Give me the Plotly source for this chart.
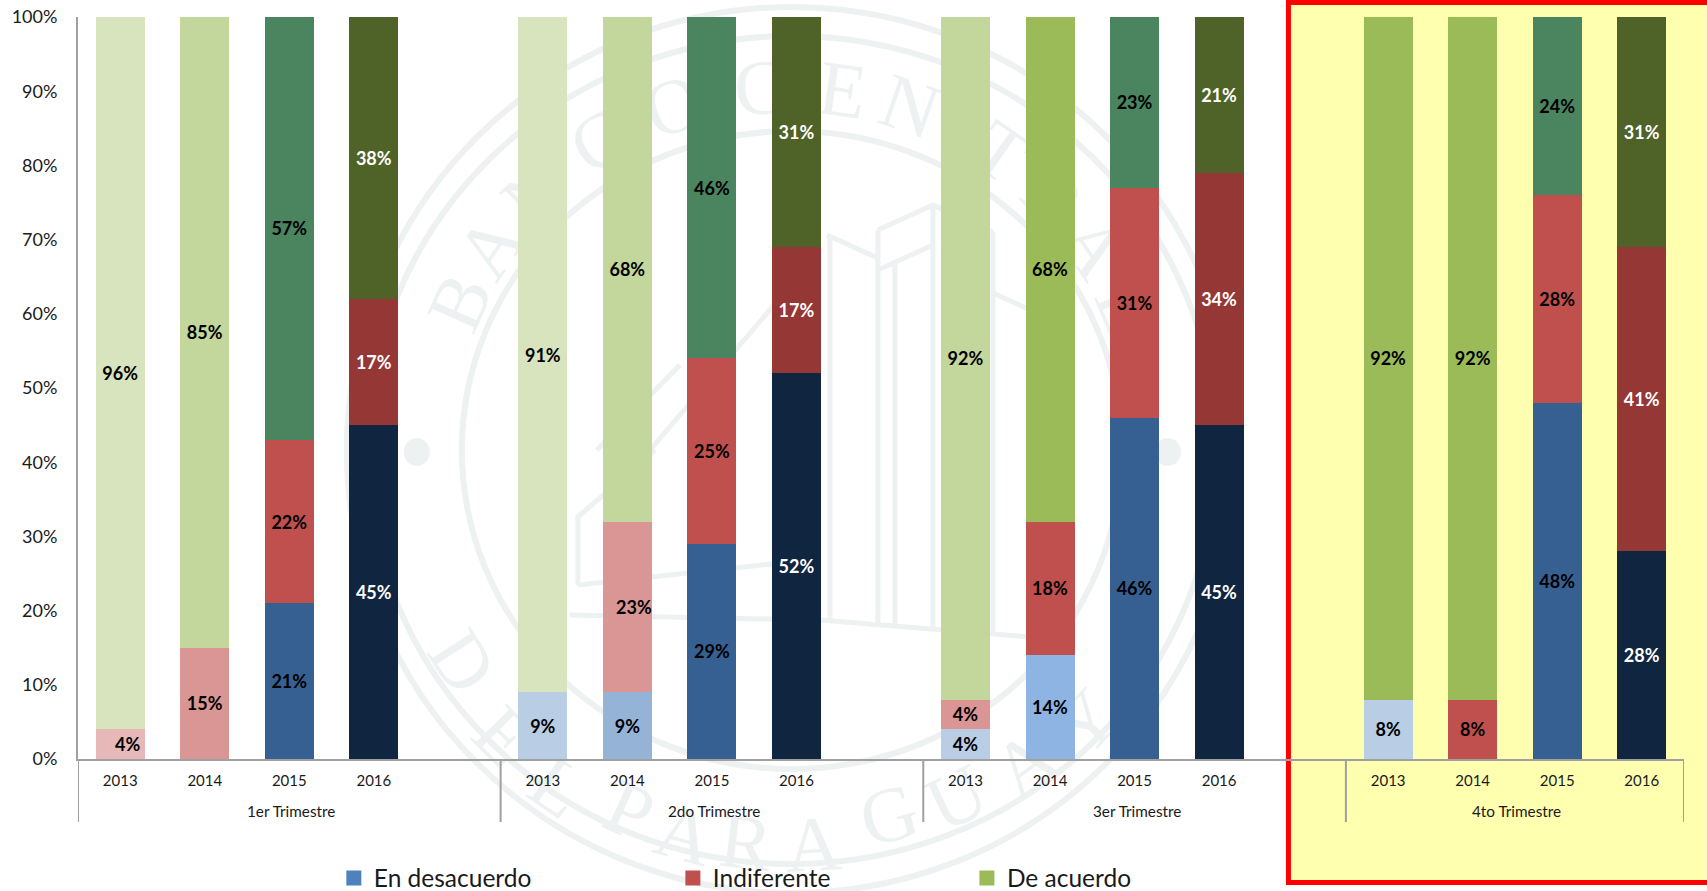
import math
import plotly.graph_objects as go

WIDTH, HEIGHT = 1707, 891
LEFT, RIGHT, TOP, BOTTOM = 78.2, 1684, 17, 759

# ---- data ----
years = ["2013", "2014", "2015", "2016"]
quarters = ["1er Trimestre", "2do Trimestre", "3er Trimestre", "4to Trimestre"]
series_names = ["En desacuerdo", "Indiferente", "De acuerdo"]

en_desacuerdo = [0, 0, 21, 45, 9, 9, 29, 52, 4, 14, 46, 45, 8, 0, 48, 28]
indiferente = [4, 15, 22, 17, 0, 23, 25, 17, 4, 18, 31, 34, 0, 8, 28, 41]
de_acuerdo = [96, 85, 57, 38, 91, 68, 46, 31, 92, 68, 23, 21, 92, 92, 24, 31]

# ---- styles ----
colors_desacuerdo = ["#B9CDE5", "#95B3D7", "#376092", "#10253F"] * 2 + ["#B9CDE5", "#8EB4E3", "#376092", "#10253F"] * 2
colors_indiferente = (["#E6B9B8", "#D99694", "#C0504D", "#953735"]
                      + ["#E6B9B8", "#D99694", "#C0504D", "#953735"]
                      + ["#D99694", "#C0504D", "#C0504D", "#953735"]
                      + ["#D99694", "#C0504D", "#C0504D", "#953735"])
colors_acuerdo = (["#D7E4BD", "#C3D69B", "#4A8560", "#4F6228"]
                  + ["#D7E4BD", "#C3D69B", "#4A8560", "#4F6228"]
                  + ["#C3D69B", "#9BBB59", "#4A8560", "#4F6228"]
                  + ["#9BBB59", "#9BBB59", "#4A8560", "#4F6228"])
legend_colors = ["#4F81BD", "#C0504D", "#9BBB59"]
legend_x_px = [334, 673, 967]
WM = "#EDF1F1"
AXIS = "#A0A0A0"
TEXT = "#1A1A1A"
FONT = "Lato"

# position on a numeric axis: four years and one empty slot per quarter
slots = [g * 5 + i for g in range(4) for i in range(4)]
group_edges = [-0.5, 4.5, 9.5, 14.5, 18.5]
group_centers = [2, 7, 12, 16.5]


def fx(px):
    return (px - LEFT) / (RIGHT - LEFT)


def fy(py):
    return (BOTTOM - py) / (BOTTOM - TOP)


shapes = []

# ---- watermark seal ----
CX, CY = 792, 450
for rx, ry, w in [(445, 443, 6), (425, 414, 6), (330, 319, 6)]:
    shapes.append(dict(type="circle", xref="paper", yref="paper", layer="below",
                       x0=fx(CX - rx), x1=fx(CX + rx), y0=fy(CY + ry), y1=fy(CY - ry),
                       line=dict(color=WM, width=w)))
for dot_x in (417, 1168):
    shapes.append(dict(type="circle", xref="paper", yref="paper", layer="below",
                       x0=fx(dot_x - 13), x1=fx(dot_x + 13), y0=fy(452 + 14), y1=fy(452 - 14),
                       fillcolor=WM, line=dict(width=0)))

seal_strokes = [
    [(570, 615), (820, 620), (1030, 637)],
    [(578, 585), (790, 562)],
    [(655, 450), (578, 517), (578, 585)],
    [(650, 450), (787, 290)],
    [(597, 450), (680, 365)],
    [(830, 235), (830, 620)],
    [(878, 230), (878, 625)],
    [(895, 262), (895, 625)],
    [(933, 205), (933, 628)],
    [(993, 232), (993, 635)],
    [(827, 235), (878, 258)],
    [(878, 230), (933, 205), (993, 232)],
    [(878, 270), (933, 245)],
    [(993, 293), (1030, 310)],
]
for stroke in seal_strokes:
    path = "M " + " L ".join(f"{fx(a):.5f} {fy(b):.5f}" for a, b in stroke)
    shapes.append(dict(type="path", xref="paper", yref="paper", layer="below", path=path,
                       line=dict(color=WM, width=5)))

top_letters = list(zip("BANCOCENTRAL", [156, 146, 135, 122, 109, 95, 82, 71, 55, 44, 34, 23]))
bottom_letters = [("D", 470, 657), ("E", 510, 730), ("L", 563, 780), ("P", 633, 803),
                  ("A", 687, 826), ("R", 747, 834), ("A", 813, 836), ("G", 887, 807),
                  ("U", 953, 790), ("A", 1020, 757), ("Y", 1080, 717)]


def seal_letter(ch, x, y, angle):
    shapes.append(dict(type="rect", xref="paper", yref="paper", layer="below",
                       x0=fx(x - 1), x1=fx(x + 1), y0=fy(y + 1), y1=fy(y - 1),
                       line=dict(width=0),
                       label=dict(text=ch, textangle=angle, textposition="middle center",
                                  font=dict(family="Liberation Serif", size=78, color=WM))))


for ch, deg in top_letters:
    a = math.radians(deg)
    seal_letter(ch, CX + 372 * math.cos(a), CY - 372 * math.sin(a), 90 - deg)
for ch, x, y in bottom_letters:
    deg = math.degrees(math.atan2(CY - y, x - CX)) % 360
    seal_letter(ch, x, y, 270 - deg)

# ---- highlighted fourth quarter ----
shapes.append(dict(type="rect", xref="paper", yref="paper", layer="below",
                   x0=fx(1288.5), x1=fx(1725), y0=fy(882.5), y1=fy(2.5),
                   fillcolor="#FFFFB0", line=dict(color="#FF0000", width=5)))

# ---- quarter separators below the axis ----
for edge in group_edges:
    shapes.append(dict(type="line", xref="x", yref="paper", x0=edge, x1=edge,
                       y0=fy(822), y1=0, layer="above", line=dict(color=AXIS, width=2)))

annotations = [dict(x=c, y=fy(811), xref="x", yref="paper", text=q, showarrow=False,
                    xanchor="center", yanchor="middle", xshift=2,
                    font=dict(family=FONT, size=15.3, color=TEXT))
               for c, q in zip(group_centers, quarters)]

fig = go.Figure()


def label_list(values, hidden=()):
    return [f"{v}%" if v and i not in hidden else "" for i, v in enumerate(values)]


label_colors = ["#FFFFFF" if i % 4 == 3 else "#000000" for i in range(16)]
# two labels sit a little to the right of their bars
shifted = {0, 5}

stacks = [(series_names[0], en_desacuerdo, colors_desacuerdo, ()),
          (series_names[1], indiferente, colors_indiferente, shifted),
          (series_names[2], de_acuerdo, colors_acuerdo, ())]
for name, values, cols, hidden in stacks:
    fig.add_trace(go.Bar(x=slots, y=values, name=name, width=0.58, showlegend=False,
                         marker=dict(color=cols, line=dict(width=0)),
                         text=label_list(values, hidden),
                         textposition="inside", insidetextanchor="middle", textangle=0,
                         constraintext="none", cliponaxis=False,
                         textfont=dict(family=FONT, size=18, weight=700, color=label_colors)))

for i in sorted(shifted):
    annotations.append(dict(x=slots[i], y=en_desacuerdo[i] + indiferente[i] / 2,
                            xref="x", yref="y", xshift=7, text=f"{indiferente[i]}%",
                            showarrow=False,
                            font=dict(family=FONT, size=18, weight=700, color="#000000")))

legends = {}
for k, (name, col, lx) in enumerate(zip(series_names, legend_colors, legend_x_px)):
    key = "legend" if k == 0 else f"legend{k + 1}"
    fig.add_trace(go.Scatter(x=[None], y=[None], mode="markers", name=name, legend=key,
                             marker=dict(symbol="square", size=15, color=col, line=dict(width=0))))
    legends[key] = dict(x=fx(lx), y=fy(855.5), xanchor="left", yanchor="top",
                        bgcolor="rgba(0,0,0,0)", borderwidth=0,
                        font=dict(family=FONT, size=24.5, color=TEXT))

fig.update_layout(
    width=WIDTH, height=HEIGHT, autosize=False,
    margin=dict(l=LEFT, r=WIDTH - RIGHT, t=TOP, b=HEIGHT - BOTTOM, pad=0, autoexpand=False),
    barmode="stack", paper_bgcolor="#FFFFFF", plot_bgcolor="rgba(0,0,0,0)",
    shapes=shapes, annotations=annotations, **legends,
    xaxis=dict(range=[-0.5, 18.5], tickmode="array", tickvals=slots, ticktext=years * 4,
               showgrid=False, zeroline=False, showline=True, linecolor=AXIS, linewidth=2,
               ticks="", ticklabelstandoff=7, automargin=False,
               tickfont=dict(family=FONT, size=15, color=TEXT)),
    yaxis=dict(range=[0, 100], tickmode="array", tickvals=list(range(0, 101, 10)),
               ticktext=[f"{v}%" for v in range(0, 101, 10)],
               showgrid=False, zeroline=False, showline=True, linecolor=AXIS, linewidth=2,
               ticks="", ticklabelstandoff=15, automargin=False,
               tickfont=dict(family=FONT, size=18, color=TEXT)),
)

fig.write_html("out.html", config=dict(displayModeBar=False),
               post_script="document.body.style.margin='0';document.body.style.overflow='hidden';")
